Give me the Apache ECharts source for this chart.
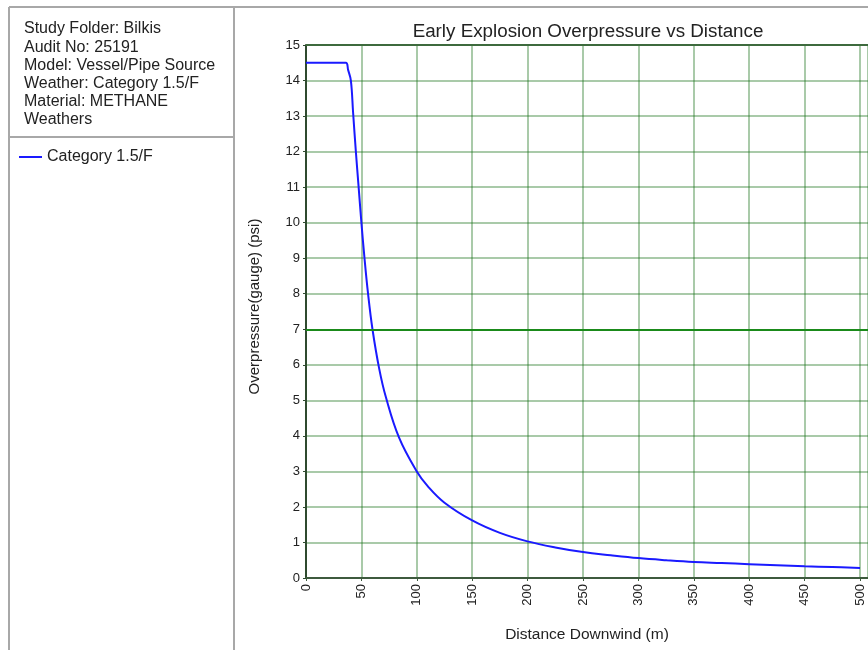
<!DOCTYPE html>
<html>
<head>
<meta charset="utf-8">
<script src="https://cdn.jsdelivr.net/npm/echarts@6/dist/echarts.min.js"></script>
<style>
  html, body { margin: 0; padding: 0; background: #fff; }
  #chart { width: 868px; height: 650px; }
</style>
</head>
<body>
<div id="chart"></div>
<script>
// distance downwind (m) and overpressure (psi)
const distance = [0, 36, 38, 40.5, 42.5, 45, 47.5, 50, 52.5, 56, 60, 66, 72, 84, 100, 110, 125, 150, 175, 200, 225, 250, 275, 300, 325, 350, 375, 400, 425, 450, 475, 500];
const overpressure = [14.5, 14.5, 14.3, 14.0, 13.1, 12.0, 11.0, 10.0, 9.1, 8.0, 7.0, 5.9, 5.1, 3.95, 3.0, 2.58, 2.12, 1.62, 1.27, 1.03, 0.86, 0.73, 0.64, 0.56, 0.5, 0.45, 0.42, 0.39, 0.36, 0.33, 0.31, 0.28];
const infoLines = ['Study Folder: Bilkis', 'Audit No: 25191', 'Model: Vessel/Pipe Source', 'Weather: Category 1.5/F', 'Material: METHANE', 'Weathers'];
const seriesName = 'Category 1.5/F';
const thresholds = [7, 15];

const font = 'Liberation Sans, Arial, sans-serif';
const myChart = echarts.init(document.getElementById('chart'));

const points = distance.map((d, i) => [d, overpressure[i]]);

const graphics = [
  // frame lines of the report page
  { type: 'line', shape: { x1: 9, y1: 7, x2: 868, y2: 7 }, style: { stroke: '#a8a8a8', lineWidth: 2 } },
  { type: 'line', shape: { x1: 9, y1: 7, x2: 9, y2: 650 }, style: { stroke: '#a8a8a8', lineWidth: 2 } },
  { type: 'line', shape: { x1: 234, y1: 7, x2: 234, y2: 650 }, style: { stroke: '#a8a8a8', lineWidth: 2 } },
  { type: 'line', shape: { x1: 9, y1: 137, x2: 234, y2: 137 }, style: { stroke: '#a8a8a8', lineWidth: 2 } }
];
infoLines.forEach((t, i) => {
  graphics.push({
    type: 'text',
    left: 24,
    top: 21 + i * 18.2,
    style: { text: t, font: '16px ' + font, fill: '#222' }
  });
});

const options = {
  animation: false,
  backgroundColor: '#fff',
  title: {
    text: 'Early Explosion Overpressure vs Distance',
    left: 583,
    textAlign: 'center',
    top: 17,
    textStyle: { fontFamily: font, fontSize: 18.8, fontWeight: 'normal', color: '#222' }
  },
  legend: {
    left: 19,
    top: 149,
    padding: 0,
    icon: 'rect',
    itemWidth: 23,
    itemHeight: 2,
    itemGap: 6,
    textStyle: { fontFamily: font, fontSize: 16, color: '#222' },
    data: [seriesName]
  },
  graphic: graphics,
  grid: { left: 306, right: 0, top: 45, bottom: 72 },
  xAxis: {
    type: 'value',
    min: 0,
    max: 507.2,
    interval: 50,
    name: 'Distance Downwind (m)',
    nameLocation: 'middle',
    nameGap: 49,
    nameTextStyle: { fontFamily: font, fontSize: 15.5, color: '#222' },
    axisLine: { lineStyle: { color: '#3d5a3d', width: 2 } },
    axisTick: { show: true, length: 3, lineStyle: { color: '#3d5a3d' } },
    axisLabel: {
      rotate: 90,
      margin: 6,
      fontFamily: font,
      fontSize: 13,
      color: '#222',
      formatter: v => (v % 50 === 0 ? String(v) : '')
    },
    splitLine: { show: true, lineStyle: { color: 'rgba(30,115,30,0.38)', width: 2 } }
  },
  yAxis: {
    type: 'value',
    min: 0,
    max: 15,
    interval: 1,
    name: 'Overpressure(gauge) (psi)',
    nameLocation: 'middle',
    nameGap: 44,
    nameTextStyle: { fontFamily: font, fontSize: 15, color: '#222', padding: [0, 0, 0, 10] },
    axisLine: { show: true, lineStyle: { color: '#2f4a2f', width: 2 } },
    axisTick: { show: true, length: 3, lineStyle: { color: '#2f4a2f' } },
    axisLabel: { fontFamily: font, fontSize: 13, color: '#222', margin: 6 },
    splitLine: { show: true, lineStyle: { color: 'rgba(30,115,30,0.38)', width: 2 } }
  },
  series: [
    {
      name: seriesName,
      type: 'line',
      symbol: 'none',
      smooth: 0.4,
      lineStyle: { color: '#1a1aff', width: 2 },
      itemStyle: { color: '#1a1aff' },
      data: points,
      markLine: {
        silent: true,
        symbol: 'none',
        label: { show: false },
        data: [
          { yAxis: thresholds[0], lineStyle: { color: '#1a8a1a', width: 2, type: 'solid' } },
          { yAxis: thresholds[1], lineStyle: { color: '#3d6a3d', width: 2, type: 'solid' } }
        ]
      }
    }
  ]
};
myChart.setOption(options);
</script>
</body>
</html>
